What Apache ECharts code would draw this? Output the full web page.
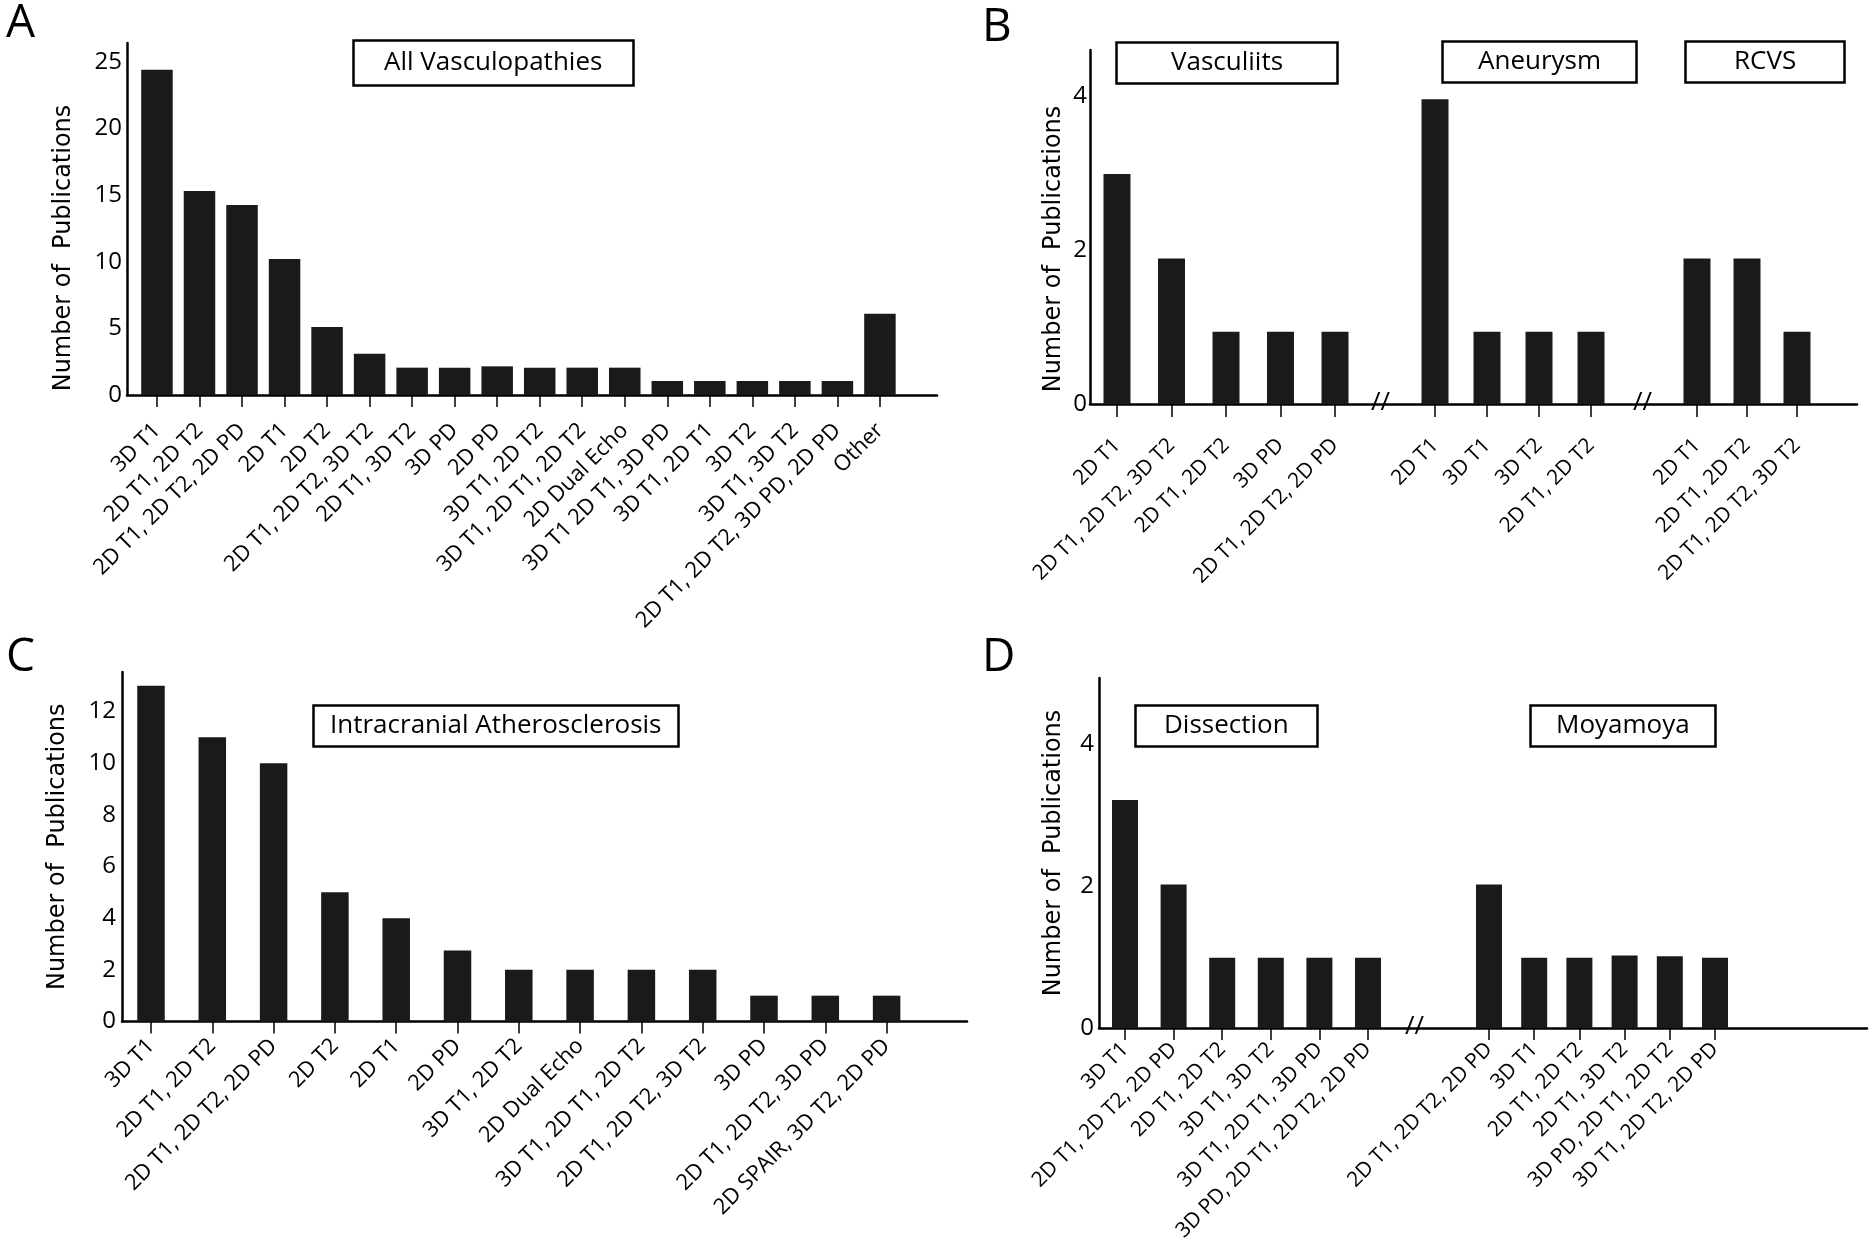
<!DOCTYPE html>
<html>
<head>
<meta charset="utf-8">
<script src="https://cdn.jsdelivr.net/npm/echarts@6/dist/echarts.min.js"></script>
<style>html,body{margin:0;padding:0;background:#fff}#c{width:1872px;height:1251px}</style>
</head>
<body>
<div id="c"></div>
<script>
// ---- Data ----
const catsA = ['3D T1','2D T1, 2D T2','2D T1, 2D T2, 2D PD','2D T1','2D T2','2D T1, 2D T2, 3D T2','2D T1, 3D T2','3D PD','2D PD','3D T1, 2D T2','3D T1, 2D T1, 2D T2','2D Dual Echo','3D T1 2D T1, 3D PD','3D T1, 2D T1','3D T2','3D T1, 3D T2','2D T1, 2D T2, 3D PD, 2D PD','Other'];
const valsA = [24.4,15.3,14.25,10.2,5.1,3.1,2.05,2.05,2.15,2.05,2.05,2.05,1.05,1.05,1.05,1.05,1.05,6.1];

const vascCats = ['2D T1','2D T1, 2D T2, 3D T2','2D T1, 2D T2','3D PD','2D T1, 2D T2, 2D PD'];
const vascVals = [2.99,1.89,0.94,0.94,0.94];
const aneuCats = ['2D T1','3D T1','3D T2','2D T1, 2D T2'];
const aneuVals = [3.96,0.94,0.94,0.94];
const rcvsCats = ['2D T1','2D T1, 2D T2','2D T1, 2D T2, 3D T2'];
const rcvsVals = [1.89,1.89,0.94];

const catsC = ['3D T1','2D T1, 2D T2','2D T1, 2D T2, 2D PD','2D T2','2D T1','2D PD','3D T1, 2D T2','2D Dual Echo','3D T1, 2D T1, 2D T2','2D T1, 2D T2, 3D T2','3D PD','2D T1, 2D T2, 3D PD','2D SPAIR, 3D T2, 2D PD'];
const valsC = [13,11,10,5,4,2.75,2,2,2,2,1,1,1];

const dissCats = ['3D T1','2D T1, 2D T2, 2D PD','2D T1, 2D T2','3D T1, 3D T2','3D T1, 2D T1, 3D PD','3D PD, 2D T1, 2D T2, 2D PD'];
const dissVals = [3.21,2.02,0.99,0.99,0.99,0.99];
const moyaCats = ['2D T1, 2D T2, 2D PD','3D T1','2D T1, 2D T2','2D T1, 3D T2','3D PD, 2D T1, 2D T2','3D T1, 2D T2, 2D PD'];
const moyaVals = [2.02,0.99,0.99,1.02,1.01,0.99];

const yTitle = 'Number of  Publications';

// ---- Layout (styles / positions) ----
const FONT = '"Open Sans", "Noto Sans", sans-serif';
const BAR = '#1a1a1a';
const frames = [
  {left:127, top:43, width:810, height:352, max:26.4, interval:5, labelMargin:5, nameGap:51, namePad:[0,58,0,0]},
  {left:1090, top:50, width:767, height:354, max:4.6, interval:2, labelMargin:3, nameGap:24, namePad:[0,44,0,0]},
  {left:122, top:672, width:845, height:349.5, max:13.53, interval:2, labelMargin:6, nameGap:52, namePad:[0,0,0,0]},
  {left:1099, top:678, width:768, height:350, max:4.93, interval:2, labelMargin:5, nameGap:33, namePad:[0,0,0,0]}
];
const groups = [
  {frame:0, left:135.7, width:765.5, cats:catsA, vals:valsA, barWidth:31.5, offset:5, tick:12, margin:27, pad:0, fs:22},
  {frame:1, left:1089.75, width:272.5, cats:vascCats, vals:vascVals, barWidth:27, offset:3, tick:13, margin:35, pad:14, fs:21},
  {frame:1, left:1409, width:208, cats:aneuCats, vals:aneuVals, barWidth:27, offset:3, tick:13, margin:35, pad:14, fs:21},
  {frame:1, left:1672, width:150, cats:rcvsCats, vals:rcvsVals, barWidth:27, offset:3, tick:13, margin:35, pad:14, fs:21},
  {frame:2, left:120.35, width:796.9, cats:catsC, vals:valsC, barWidth:27.5, offset:0, tick:12, margin:21, pad:14, fs:22},
  {frame:3, left:1100.7, width:291.6, cats:dissCats, vals:dissVals, barWidth:26, offset:2, tick:12, margin:16, pad:22, fs:21},
  {frame:3, left:1466.4, width:271.2, cats:moyaCats, vals:moyaVals, barWidth:26, offset:2, tick:12, margin:16, pad:22, fs:21}
];

const grid = [], xAxis = [], yAxis = [], series = [];
frames.forEach((f, i) => {
  grid.push({left:f.left, top:f.top, width:f.width, height:f.height, containLabel:false, outerBoundsMode:'none'});
  xAxis.push({type:'value', gridIndex:i, min:0, max:1, axisLine:{show:true, lineStyle:{color:'#000', width:2.5}},
    axisTick:{show:false}, axisLabel:{show:false}, splitLine:{show:false}});
  yAxis.push({type:'value', gridIndex:i, min:0, max:f.max, interval:f.interval,
    axisLine:{show:true, onZero:false, lineStyle:{color:'#000', width:2.5}}, axisTick:{show:false}, splitLine:{show:false},
    axisLabel:{color:'#000', fontFamily:FONT, fontSize:24, margin:f.labelMargin, showMaxLabel:false},
    name:yTitle, nameLocation:'middle', nameGap:f.nameGap,
    nameTextStyle:{color:'#000', fontFamily:'"DejaVu Sans", sans-serif', fontSize:24, padding:f.namePad}});
});
groups.forEach((g, k) => {
  const f = frames[g.frame];
  const gi = grid.length;
  grid.push({left:g.left, top:f.top, width:g.width, height:f.height, containLabel:false, outerBoundsMode:'none'});
  xAxis.push({type:'category', gridIndex:gi, data:g.cats, offset:g.offset,
    axisLine:{show:false}, axisTick:{show:true, alignWithLabel:true, length:g.tick, lineStyle:{color:'#000', width:1.5}},
    axisLabel:{interval:0, rotate:45, margin:g.margin, padding:[g.pad, 0, 0, 0], color:'#000', fontFamily:FONT, fontSize:g.fs},
    splitLine:{show:false}});
  yAxis.push({type:'value', gridIndex:gi, min:0, max:f.max, show:false, splitLine:{show:false}});
  series.push({type:'bar', xAxisIndex:gi, yAxisIndex:gi, data:g.vals, barWidth:g.barWidth,
    itemStyle:{color:BAR}, silent:true});
});

const letter = (t, l, tp) => ({text:t, left:l, top:tp, padding:0, textStyle:{fontFamily:FONT, fontSize:46, fontWeight:'normal', color:'#000'}});
const box = (t, l, tp, hp, vp) => ({text:t, left:l, top:tp, padding:[vp || 8, hp], borderColor:'#000', borderWidth:2.5,
  textStyle:{fontFamily:FONT, fontSize:26, fontWeight:'normal', color:'#000'}});
const brk = (l, tp) => ({text:'//', left:l, top:tp, padding:0, textStyle:{fontFamily:FONT, fontSize:26, fontWeight:'normal', color:'#000'}});

const title = [
  letter('A', 6, 1), letter('B', 982, 5), letter('C', 6, 635), letter('D', 982, 635),
  box('All Vasculopathies', 353, 40, 31, 10),
  box('Vasculiits', 1116, 42, 55),
  box('Aneurysm', 1442, 41, 36),
  box('RCVS', 1685, 41, 49),
  box('Intracranial Atherosclerosis', 313, 705, 17),
  box('Dissection', 1135, 705, 29),
  box('Moyamoya', 1530, 705, 26),
  brk(1371, 390), brk(1633, 390), brk(1405, 1014)
];

const chart = echarts.init(document.getElementById('c'), null, {renderer:'canvas'});
chart.setOption({animation:false, backgroundColor:'#fff', title, grid, xAxis, yAxis, series});
</script>
</body>
</html>
